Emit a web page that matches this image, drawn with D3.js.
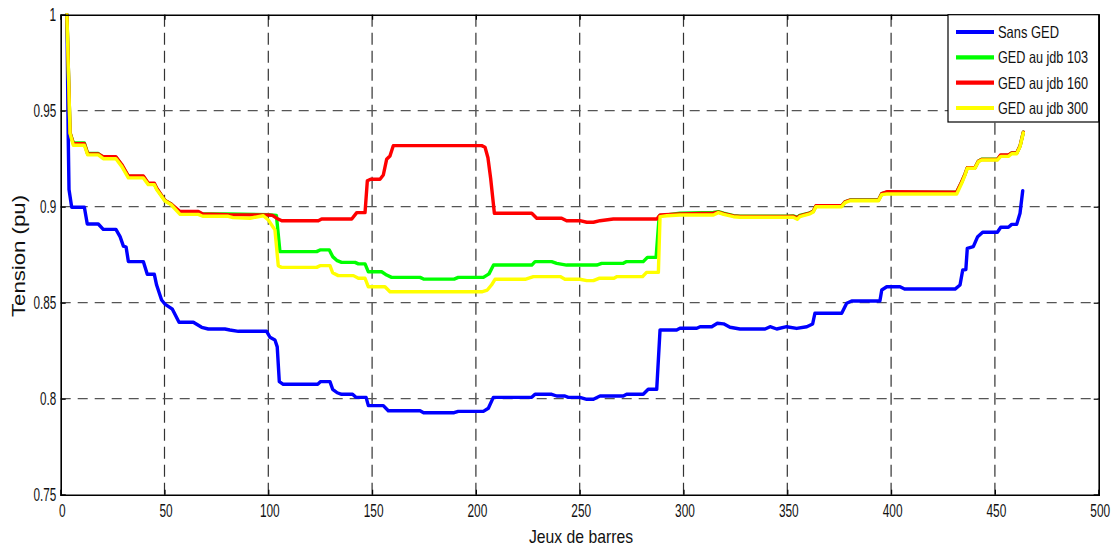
<!DOCTYPE html>
<html>
<head>
<meta charset="utf-8">
<title>Tension aux jeux de barres</title>
<script src="https://cdn.jsdelivr.net/npm/d3@7/dist/d3.min.js"></script>
<style>
  html, body { margin: 0; padding: 0; background: #fff; }
  svg { display: block; }
  .narrow { font-family: "Liberation Sans Narrow", "Arial Narrow", "Liberation Sans", Arial, sans-serif; }
  .regular { font-family: "Liberation Sans", Arial, sans-serif; }
</style>
</head>
<body>
<svg id="chart" width="1117" height="548"></svg>
<script>
// Bus index (jeu de barres) and voltage in pu, one array per scenario
const sansGED = [
  [3,1.0],[3.6,0.938],[4,0.909],[5.3,0.8997],[11.4,0.8997],[12.8,0.891],[18.1,0.891],
  [20.5,0.8882],[26.6,0.8882],[28.6,0.8844],[30.2,0.8795],[31.5,0.879],[32.6,0.8714],
  [39.8,0.8714],[41.7,0.8648],[45.1,0.8648],[46.2,0.8592],[48.6,0.8514],[50.2,0.8493],
  [53.8,0.8466],[57.0,0.8398],[63.9,0.8398],[67.9,0.8372],[71.1,0.8363],[79.1,0.8363],
  [81.5,0.8358],[85.6,0.8351],[99.2,0.8351],[100.8,0.832],[103.2,0.8306],[104.3,0.827],
  [105.3,0.8089],[107.2,0.8075],[123.8,0.8075],[125.2,0.8089],[129.7,0.8089],[131,0.8049],
  [133.2,0.8031],[135.3,0.8023],[140.6,0.8023],[142.2,0.8007],[147.1,0.8007],[148.2,0.7964],
  [155.4,0.7964],[157.8,0.7937],[173.1,0.7937],[174.8,0.7927],[189.5,0.7927],[191.5,0.7934],
  [203.6,0.7934],[206,0.795],[208.4,0.8007],[226.9,0.8007],[228.5,0.8023],[236.5,0.8023],
  [238.9,0.8014],[242.9,0.8014],[244.5,0.8007],[250.1,0.8007],[253.4,0.7997],[256.6,0.7997],
  [259.8,0.8014],[271,0.8014],[272.6,0.8023],[280.6,0.8023],[283,0.8049],[287.1,0.8049],
  [288.7,0.8358],[296.7,0.8358],[298.3,0.8367],[306.4,0.8367],[308,0.8375],[313.6,0.8375],
  [316.3,0.8393],[319.3,0.839],[322.4,0.8372],[327.2,0.8363],[339.3,0.8363],[341.7,0.8375],
  [344.9,0.8363],[349.7,0.8375],[354.5,0.8366],[359.4,0.8375],[362.2,0.8389],[363.3,0.8445],
  [376.2,0.8445],[378.6,0.8497],[381,0.8509],[394.6,0.8509],[395.5,0.8566],[397.9,0.8583],
  [404.3,0.8583],[406.5,0.8571],[430.8,0.8571],[433.2,0.8592],[434.5,0.867],[436,0.8672],
  [436.7,0.8783],[439.6,0.8792],[441.7,0.8844],[444.1,0.8867],[451.2,0.8867],[452.8,0.8893],
  [456.5,0.8893],[458.1,0.8908],[460.5,0.8908],[462.1,0.8966],[463.4,0.9083]
];

const gedJdb103 = [
  [3,1.0],[4.5,0.9385],[6.1,0.9332],[11.4,0.9332],[13,0.9277],[18.1,0.9277],[20.5,0.9257],
  [26.6,0.9257],[29.4,0.9217],[32.6,0.9158],[39.8,0.9158],[42.2,0.912],[45.1,0.912],
  [46.2,0.9095],[50.2,0.9033],[53.2,0.9014],[57.5,0.8968],[66.3,0.8968],[68.4,0.8962],
  [80.7,0.8962],[100,0.8958],[103.9,0.8955],[105.6,0.8766],[123.3,0.8766],[124.9,0.8775],
  [129.4,0.8775],[131,0.874],[133.2,0.8719],[135.3,0.871],[141.8,0.871],[143.4,0.8702],
  [146.6,0.8702],[148.2,0.8661],[154.6,0.8661],[157,0.8644],[159.4,0.8632],[173.1,0.8632],
  [174.8,0.8623],[189.5,0.8623],[191.5,0.8632],[203.6,0.8632],[206.3,0.865],[208.5,0.8696],
  [226.9,0.8696],[228.5,0.8714],[236.5,0.8714],[238.9,0.8705],[243.7,0.8696],[258.2,0.8696],
  [260.6,0.8705],[271,0.8705],[272.6,0.8714],[280.6,0.8714],[282.6,0.8736],[286.8,0.8736],
  [288.3,0.8952],[298.3,0.8966],[314.4,0.897],[316.8,0.8974],[319.3,0.8966],[324.1,0.8953],
  [327.2,0.895],[349.7,0.895],[352.9,0.8952],[354.8,0.8945],[356,0.8955],[360.9,0.8968],
  [362.5,0.8976],[363.8,0.9004],[376.2,0.9004],[377.8,0.9025],[380.2,0.9035],[393.9,0.9035],
  [395.5,0.9068],[397.9,0.9076],[431.6,0.9076],[434,0.9128],[435.6,0.917],[436.7,0.9203],
  [440.4,0.9203],[442,0.9237],[443.6,0.9247],[451.2,0.9247],[452.8,0.9267],[456.5,0.9267],
  [458.1,0.928],[460.5,0.928],[462.1,0.9316],[463.7,0.9388]
];

const gedJdb160 = [
  [3,1.0],[4.5,0.9385],[6.1,0.9328],[11.4,0.9328],[13,0.9275],[18.1,0.9275],[20.5,0.926],
  [26.6,0.926],[29.4,0.922],[32.6,0.916],[39.8,0.916],[42.2,0.9122],[45.1,0.9122],
  [46.2,0.9097],[50.2,0.9033],[53.2,0.9014],[57.5,0.8975],[66.3,0.8975],[68.4,0.8962],
  [80.7,0.8958],[100,0.8957],[102,0.8955],[104,0.894],[106.5,0.8927],[124.1,0.8927],
  [125.7,0.8936],[140.2,0.8936],[142.6,0.8969],[146.6,0.8969],[147.7,0.9135],[149.3,0.9143],
  [153.8,0.9143],[155.4,0.9165],[157,0.9247],[158.6,0.9264],[160.2,0.9318],[202.8,0.9318],
  [204.4,0.931],[205.8,0.9255],[207.1,0.9148],[208.9,0.8966],[226.9,0.8966],[229.3,0.894],
  [241.3,0.894],[243.7,0.8927],[250.1,0.8927],[253.4,0.8919],[256.6,0.8919],[259.8,0.8927],
  [266.2,0.8936],[287.1,0.8936],[288.7,0.8957],[298.3,0.8962],[314.4,0.8966],[316.8,0.8972],
  [319.3,0.8964],[324.1,0.8952],[327.2,0.8949],[349.7,0.8949],[352.9,0.895],[354.8,0.8942],
  [356,0.8952],[360.9,0.8967],[362.5,0.8976],[363.8,0.9005],[376.2,0.9005],[377.8,0.9025],
  [380.2,0.9034],[393.9,0.9034],[395.5,0.9068],[397.9,0.9078],[431.6,0.9076],[434,0.913],
  [435.6,0.917],[436.7,0.9203],[440.4,0.9203],[442,0.9237],[443.6,0.9246],[451.2,0.9246],
  [452.8,0.927],[456.5,0.927],[458.1,0.928],[460.5,0.928],[462.1,0.9316],[463.7,0.9388]
];

const gedJdb300 = [
  [3,1.0],[4.5,0.9382],[6.1,0.932],[11.4,0.932],[13,0.927],[18.1,0.927],[20.5,0.925],
  [26.6,0.925],[29.4,0.921],[32.6,0.915],[39.8,0.915],[42.2,0.9115],[45.1,0.9115],
  [46.2,0.909],[50.2,0.903],[53.2,0.901],[57.5,0.896],[66.3,0.896],[68.4,0.895],[80.7,0.895],
  [83,0.8943],[91.2,0.894],[97.6,0.8953],[100,0.8931],[103.2,0.8879],[104.8,0.8693],
  [106.4,0.8684],[123.3,0.8684],[124.9,0.8693],[129.7,0.8693],[131,0.8656],[133.7,0.8641],
  [141,0.8641],[143.4,0.8627],[146.6,0.8627],[148.2,0.8583],[156.2,0.8583],[158.6,0.8557],
  [202.8,0.8557],[205.5,0.8566],[207.5,0.8592],[209.2,0.8622],[223.7,0.8622],[227.7,0.8636],
  [240.6,0.8636],[242.9,0.8622],[250.1,0.8622],[253.4,0.8615],[256.6,0.8615],[259.3,0.8627],
  [266.5,0.8627],[268,0.8636],[280.3,0.8636],[282.2,0.8658],[287.9,0.8658],[288.7,0.8948],
  [292,0.8953],[298.3,0.8957],[314.4,0.8957],[316.8,0.8969],[319.3,0.896],[324.1,0.8948],
  [327.2,0.8945],[352.9,0.8945],[354.8,0.8935],[356,0.8948],[360.9,0.8963],[362.5,0.8972],
  [363.8,0.9],[376.2,0.9],[377.8,0.9021],[380.2,0.9031],[393.9,0.9031],[395.5,0.9063],
  [397.9,0.9066],[431.6,0.9066],[434,0.9122],[435.6,0.9165],[436.7,0.92],[440.4,0.92],
  [442,0.9234],[443.6,0.9243],[451.2,0.9243],[452.8,0.9262],[456.5,0.9262],[458.1,0.9276],
  [460.5,0.9276],[462.1,0.9313],[463.7,0.9385]
];

const seriesNames = ["Sans GED", "GED au jdb 103", "GED au jdb 160", "GED au jdb 300"];
const seriesColors = ["#0000ff", "#00ff00", "#ff0000", "#ffff00"];
const seriesData = [sansGED, gedJdb103, gedJdb160, gedJdb300];

const xTicks = [0, 50, 100, 150, 200, 250, 300, 350, 400, 450, 500];
const yTicks = [0.75, 0.8, 0.85, 0.9, 0.95, 1];
const yTickLabels = ["0.75", "0.8", "0.85", "0.9", "0.95", "1"];

const xTitle = "Jeux de barres";
const yTitle = "Tension (pu)";

// ---- layout ----
const plot = { left: 60.7, right: 1098.7, top: 14.7, bottom: 494.7 };

const x = d3.scaleLinear().domain([0, 500]).range([plot.left, plot.right]);
const y = d3.scaleLinear().domain([0.75, 1]).range([plot.bottom, plot.top]);

const svg = d3.select("#chart");

// condensed label width: narrow digits, as in the figure export
function labelWidth(s) {
  let w = 0;
  for (const c of s) w += (c === ".") ? 3 : 6.6;
  return w;
}

// ---- grid ----
const grid = svg.append("g");
grid.selectAll("line.gx")
  .data(xTicks.filter(t => t > 0 && t < 500))
  .join("line")
  .attr("x1", d => x(d)).attr("x2", d => x(d))
  .attr("y1", plot.top).attr("y2", plot.bottom)
  .attr("stroke", "#333").attr("stroke-width", 1.2)
  .attr("stroke-dasharray", "12,6");
grid.selectAll("line.gy")
  .data(yTicks.filter(t => t > 0.75 && t < 1))
  .join("line")
  .attr("x1", plot.left).attr("x2", plot.right)
  .attr("y1", d => y(d)).attr("y2", d => y(d))
  .attr("stroke", "#555").attr("stroke-width", 1.2)
  .attr("stroke-dasharray", "10,7");

// ---- series ----
const line = d3.line().x(d => x(d[0])).y(d => y(d[1]));
svg.append("g")
  .selectAll("path")
  .data(seriesData)
  .join("path")
  .attr("d", d => line(d))
  .attr("fill", "none")
  .attr("stroke", (d, i) => seriesColors[i])
  .attr("stroke-width", 3.4)
  .attr("stroke-linejoin", "round")
  .attr("stroke-linecap", "round");

// ---- axes (ticks pointing inwards, box around the plot) ----
const axisBottom = d3.axisBottom(x).tickValues(xTicks).tickSize(-5).tickPadding(10);
const axisTop = d3.axisTop(x).tickValues(xTicks).tickSize(-5).tickFormat("");
const axisLeft = d3.axisLeft(y).tickValues(yTicks).tickSize(-5).tickPadding(8)
  .tickFormat((d, i) => yTickLabels[i]);
const axisRight = d3.axisRight(y).tickValues(yTicks).tickSize(-5).tickFormat("");

function styleAxis(g) {
  g.select(".domain").attr("stroke", "#000").attr("stroke-width", 1.6);
  g.selectAll(".tick line").attr("stroke", "#000").attr("stroke-width", 1.2);
  g.selectAll(".tick text")
    .attr("class", "narrow")
    .attr("fill", "#111")
    .style("font-size", "18px");
}

const gB = svg.append("g").attr("transform", `translate(0,${plot.bottom})`).call(axisBottom);
styleAxis(gB);
gB.selectAll(".tick text")
  .attr("dy", null).attr("y", 22.5).attr("x", 1)
  .attr("textLength", d => labelWidth(String(d)))
  .attr("lengthAdjust", "spacingAndGlyphs");

const gT = svg.append("g").attr("transform", `translate(0,${plot.top})`).call(axisTop);
styleAxis(gT);

const gL = svg.append("g").attr("transform", `translate(${plot.left},0)`).call(axisLeft);
styleAxis(gL);
gL.selectAll(".tick text")
  .attr("dy", null).attr("y", 6).attr("x", -4.5)
  .attr("textLength", (d, i) => labelWidth(yTickLabels[i]))
  .attr("lengthAdjust", "spacingAndGlyphs");

const gR = svg.append("g").attr("transform", `translate(${plot.right},0)`).call(axisRight);
styleAxis(gR);

// ---- axis titles ----
svg.append("text")
  .attr("class", "narrow")
  .attr("x", 581).attr("y", 543)
  .attr("text-anchor", "middle")
  .attr("fill", "#111")
  .style("font-size", "18.5px")
  .attr("textLength", 104).attr("lengthAdjust", "spacingAndGlyphs")
  .text(xTitle);

svg.append("text")
  .attr("class", "regular")
  .attr("transform", "translate(25,256) rotate(-90)")
  .attr("text-anchor", "middle")
  .attr("fill", "#111")
  .style("font-size", "18px")
  .attr("textLength", 122).attr("lengthAdjust", "spacingAndGlyphs")
  .text(yTitle);

// ---- legend ----
const legend = { x0: 948, x1: plot.right, y0: plot.top, y1: 122 };
const lg = svg.append("g");
lg.append("rect")
  .attr("x", legend.x0).attr("y", legend.y0)
  .attr("width", legend.x1 - legend.x0).attr("height", legend.y1 - legend.y0)
  .attr("fill", "#fff").attr("stroke", "#000").attr("stroke-width", 1.2);

const rowY = d3.scalePoint().domain(seriesNames).range([32, 108]);
const rows = lg.selectAll("g.row").data(seriesNames).join("g")
  .attr("transform", d => `translate(0,${rowY(d)})`);
rows.append("line")
  .attr("x1", 956).attr("x2", 994).attr("y1", 0).attr("y2", 0)
  .attr("stroke", (d, i) => seriesColors[i]).attr("stroke-width", 4.2);
rows.append("text")
  .attr("class", "narrow")
  .attr("x", 998).attr("y", 6)
  .attr("fill", "#111")
  .style("font-size", "16.5px")
  .attr("textLength", d => d.length > 8 ? 90 : 61)
  .attr("lengthAdjust", "spacingAndGlyphs")
  .text(d => d);
</script>
</body>
</html>
